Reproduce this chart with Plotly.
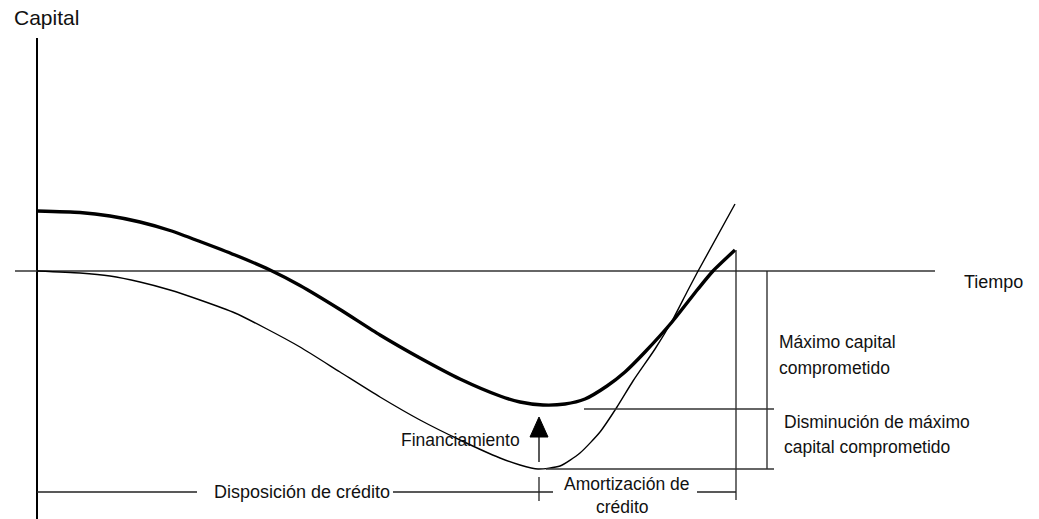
import plotly.graph_objects as go

# ---- Data (diagram units: time to the right, capital upwards; origin at axes crossing) ----
# Curve with financing (thick)
fin_time = [0, 43, 73, 103, 133, 163, 198, 233, 263, 303, 343, 383, 423, 463, 483, 506,
            528, 548, 570, 588, 608, 635, 661, 676, 698]
fin_capital = [60, 58.5, 55, 49, 40.5, 29.5, 16, 1, -14.5, -38.5, -64, -87, -108, -125, -131,
               -134, -133, -128, -115, -101, -81, -51, -18, 0, 21]

# Curve without financing (thin)
nofin_time = [0, 43, 73, 103, 133, 163, 198, 228, 263, 303, 343, 383, 423, 463, 483, 501,
              523, 543, 563, 580, 596, 618, 635, 650, 660, 698]
nofin_capital = [0, -2, -5, -11, -19, -29, -42, -57, -76, -101, -126, -149, -169, -187, -194,
                 -198, -195, -182, -161, -136, -110, -78, -50, -21, -2, 67]

# Axes extents
time_axis = [-22, 898]
capital_axis = [233, -248]

# Reference levels
end_time = 699            # end of project horizon
dim_time = 730            # dimension line for maximum committed capital
max_cap_fin_level = -138  # maximum committed capital (with financing)
max_cap_nofin_level = -198  # maximum committed capital (without financing)
bottom_level = -221       # credit periods line
credit_split = 502        # time where credit drawing ends and amortization starts

# Financing arrow
arrow_from, arrow_base, arrow_tip, arrow_half = -191, -166, -146, 9

# Labels
label_y = "Capital"
label_x = "Tiempo"
label_max = ["Máximo capital", "comprometido"]
label_dec = ["Disminución de máximo", "capital comprometido"]
label_fin = "Financiamiento"
label_disp = "Disposición de crédito"
label_amort = ["Amortización de", "crédito"]

FONT = "Liberation Sans Narrow, Arial Narrow, Liberation Sans, Arial, sans-serif"
TXT = "#111"
FS = 17.5

fig = go.Figure()


def seg(xs, ys, width=1.3, color="#222"):
    fig.add_trace(go.Scatter(x=xs, y=ys, mode="lines", line=dict(color=color, width=width),
                             hoverinfo="skip", showlegend=False))


# axes
seg([0, 0], capital_axis, width=2, color="#000")
seg(time_axis, [0, 0], width=1.5, color="#333")

# curves
fig.add_trace(go.Scatter(x=nofin_time, y=nofin_capital, mode="lines",
                         line=dict(color="#000", width=1.4, shape="spline", smoothing=0.6),
                         hoverinfo="skip", showlegend=False))
fig.add_trace(go.Scatter(x=fin_time, y=fin_capital, mode="lines",
                         line=dict(color="#000", width=3.4, shape="spline", smoothing=0.6),
                         hoverinfo="skip", showlegend=False))

# dimension lines
seg([end_time, end_time], [fin_capital[-1], bottom_level - 8])
seg([dim_time, dim_time], [0, max_cap_nofin_level])
seg([547, dim_time + 7], [max_cap_fin_level, max_cap_fin_level], color="#333")
seg([509, dim_time + 7], [max_cap_nofin_level, max_cap_nofin_level], color="#333")

# bottom credit line
seg([0, 160, None, 356, 516, None, 660, end_time],
    [bottom_level, bottom_level, None, bottom_level, bottom_level, None, bottom_level, bottom_level])
seg([credit_split, credit_split], [bottom_level + 15, bottom_level - 9])

# financing arrow
seg([credit_split, credit_split], [arrow_from, arrow_base], width=1.3, color="#000")
fig.add_trace(go.Scatter(x=[credit_split - arrow_half, credit_split + arrow_half, credit_split,
                            credit_split - arrow_half],
                         y=[arrow_base, arrow_base, arrow_tip, arrow_base],
                         mode="lines", fill="toself", fillcolor="#000",
                         line=dict(color="#000", width=1), hoverinfo="skip", showlegend=False))


def txt(x, y, s, xa="left", size=FS):
    fig.add_annotation(x=x, y=y, text=s, showarrow=False, xanchor=xa, yanchor="middle",
                       font=dict(family=FONT, size=size, color=TXT))


txt(-25, 254, label_y, size=21)
txt(925, -11, label_x, size=18)
txt(740, -71, label_max[0])
txt(740, -97, label_max[1])
txt(745, -151, label_dec[0])
txt(745, -176, label_dec[1])
txt(485, -169, label_fin, xa="right")
txt(175, bottom_level, label_disp, size=18)
txt(589, -213, label_amort[0], xa="center")
txt(585, -236, label_amort[1], xa="center")

fig.update_layout(
    width=1039, height=519,
    margin=dict(l=0, r=0, t=0, b=0),
    paper_bgcolor="white", plot_bgcolor="white",
    xaxis=dict(range=[-37, 1002], visible=False, fixedrange=True),
    yaxis=dict(range=[-248, 271], visible=False, fixedrange=True),
    showlegend=False,
)

fig.write_html("out.html", config={"displayModeBar": False},
               post_script="document.body.style.margin='0';document.body.style.overflow='hidden';")
